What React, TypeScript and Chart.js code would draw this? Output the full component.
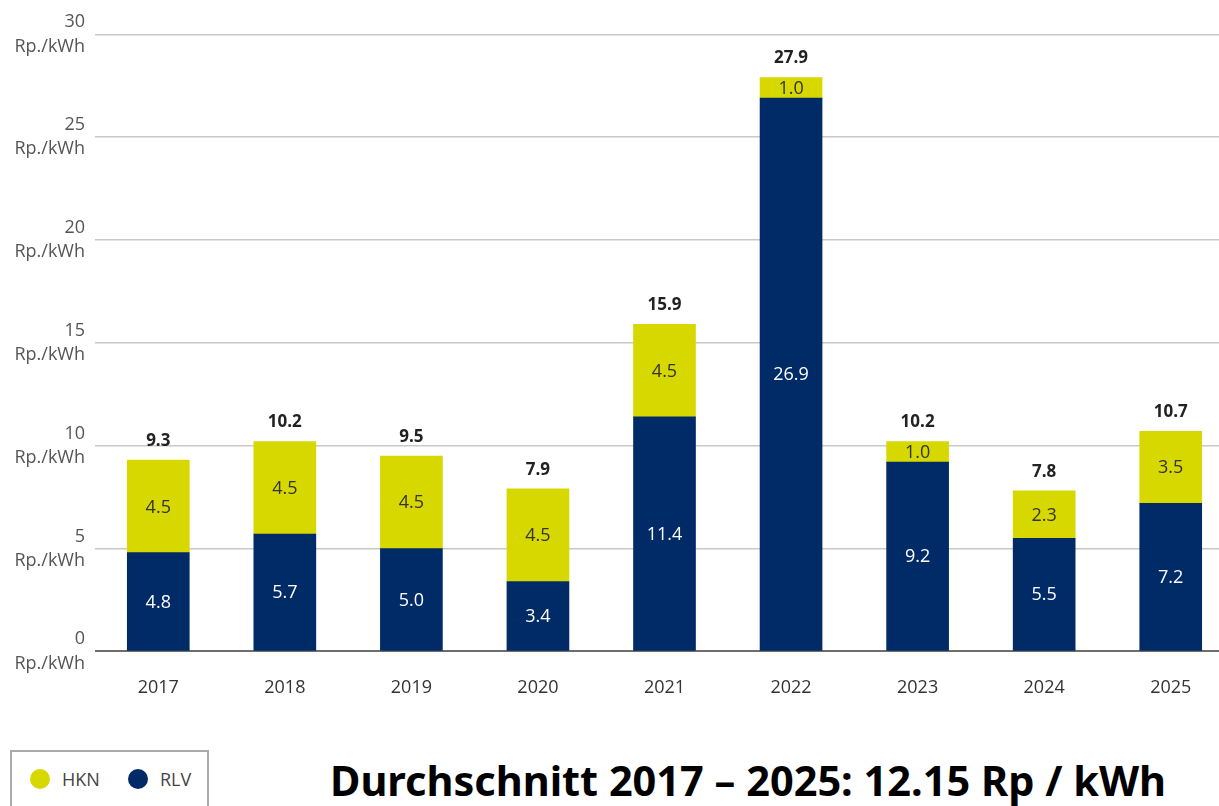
import React, { useEffect, useRef } from "react";
import { Chart, registerables } from "chart.js";

Chart.register(...registerables);

const years = ["2017", "2018", "2019", "2020", "2021", "2022", "2023", "2024", "2025"];
const rlv = [4.8, 5.7, 5.0, 3.4, 11.4, 26.9, 9.2, 5.5, 7.2];
const hkn = [4.5, 4.5, 4.5, 4.5, 4.5, 1.0, 1.0, 2.3, 3.5];
const totals = [9.3, 10.2, 9.5, 7.9, 15.9, 27.9, 10.2, 7.8, 10.7];
const yTicks = [0, 5, 10, 15, 20, 25, 30];
const unitLabel = "Rp./kWh";
const legendItems = [
  { label: "HKN", color: "#d7d800" },
  { label: "RLV", color: "#002b66" },
];
const footerText = "Durchschnitt 2017 \u2013 2025: 12.15 Rp / kWh";

const NAVY = "#002b66";
const YELLOW = "#d7d800";
const FONT = "'Open Sans', 'Noto Sans', sans-serif";

const labelPlugin = {
  id: "barLabels",
  afterDatasetsDraw(chart: any) {
    const ctx = chart.ctx;
    ctx.save();
    ctx.textAlign = "center";
    ctx.textBaseline = "middle";
    chart.data.datasets.forEach((ds: any, di: number) => {
      const meta = chart.getDatasetMeta(di);
      meta.data.forEach((el: any, i: number) => {
        const v = ds.data[i];
        const cy = (el.y + el.base) / 2;
        ctx.font = "18px " + FONT;
        ctx.fillStyle = di === 0 ? "#ffffff" : "#333333";
        ctx.fillText(v.toFixed(1), el.x, cy + 1);
      });
    });
    const topMeta = chart.getDatasetMeta(chart.data.datasets.length - 1);
    topMeta.data.forEach((el: any, i: number) => {
      ctx.font = "bold 17px " + FONT;
      ctx.fillStyle = "#222222";
      ctx.fillText(totals[i].toFixed(1), el.x, el.y - 19);
    });
    ctx.restore();
  },
};

export default function App() {
  const ref = useRef<HTMLCanvasElement>(null);
  useEffect(() => {
    if (!ref.current) return;
    const chart = new Chart(ref.current, {
      type: "bar",
      data: {
        labels: years,
        datasets: [
          { label: "RLV", data: rlv, backgroundColor: NAVY, barThickness: 62 },
          { label: "HKN", data: hkn, backgroundColor: YELLOW, barThickness: 62 },
        ],
      },
      options: {
        animation: false,
        responsive: false,
        maintainAspectRatio: false,
        layout: { autoPadding: false, padding: { top: 31, right: 6, bottom: 23, left: 0 } },
        plugins: { legend: { display: false }, tooltip: { enabled: false } },
        scales: {
          x: {
            stacked: true,
            grid: { display: false, drawTicks: false },
            border: { display: false },
            ticks: {
              padding: 26,
              color: "#333",
              font: { size: 18, family: FONT },
            },
          },
          y: {
            stacked: true,
            min: 0,
            max: 30,
            afterBuildTicks: (scale: any) => {
              scale.ticks = yTicks.map((v) => ({ value: v }));
            },
            afterFit: (scale: any) => {
              scale.width = 95;
            },
            grid: {
              drawTicks: false,
              color: (c: any) => (c.tick && c.tick.value === 0 ? "#6e6e6e" : "#c8c8c8"),
              lineWidth: (c: any) => (c.tick && c.tick.value === 0 ? 2 : 1.5),
            },
            border: { display: false },
            ticks: {
              padding: 10,
              color: "#555",
              font: { size: 18, lineHeight: 1.35, family: FONT },
              callback: (v: any) => [String(v), unitLabel],
            },
          },
        },
      },
      plugins: [labelPlugin],
    });
    return () => chart.destroy();
  }, []);

  return (
    <div
      style={{
        position: "absolute",
        left: 0,
        top: 0,
        width: 1219,
        height: 806,
        overflow: "hidden",
        background: "#fff",
      }}
    >
      <canvas ref={ref} width={1240} height={748} style={{ position: "absolute", left: 0, top: 0 }} />
      <div
        style={{
          position: "absolute",
          left: 10,
          top: 750,
          width: 195,
          height: 70,
          border: "2px solid #aaaaaa",
          fontFamily: FONT,
          fontSize: 18,
          color: "#444",
        }}
      >
        {legendItems.map((it, i) => (
          <div
            key={it.label}
            style={{
              position: "absolute",
              left: 18 + i * 98,
              top: 15,
              display: "flex",
              alignItems: "center",
            }}
          >
            <span
              style={{
                display: "inline-block",
                width: 20,
                height: 20,
                borderRadius: "50%",
                background: it.color,
                marginRight: 12,
              }}
            />
            <span>{it.label}</span>
          </div>
        ))}
      </div>
      <div
        style={{
          position: "absolute",
          left: 330,
          top: 755,
          whiteSpace: "nowrap",
          fontFamily: "'Noto Sans', sans-serif",
          fontWeight: "bold",
          fontSize: 41.5,
          lineHeight: "50px",
          color: "#000",
        }}
      >
        {footerText}
      </div>
    </div>
  );
}
